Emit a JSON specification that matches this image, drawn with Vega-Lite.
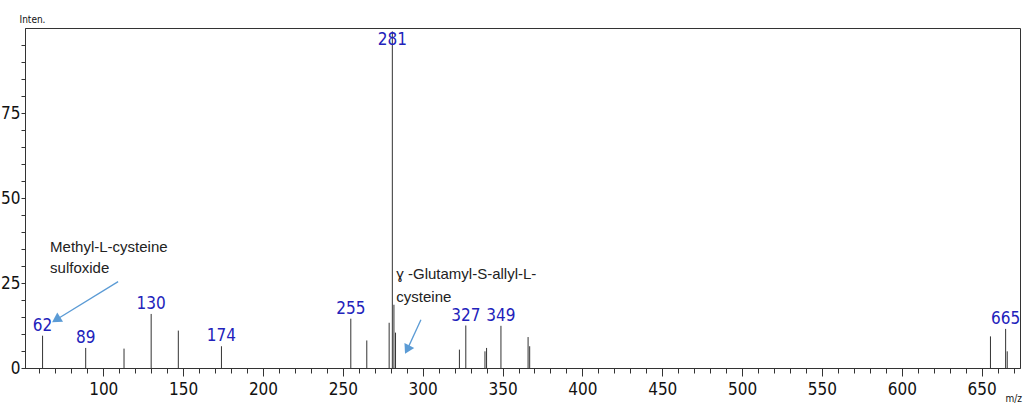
{
  "$schema": "https://vega.github.io/schema/vega-lite/v6.json",
  "width": 995,
  "height": 340,
  "autosize": "none",
  "padding": {"left": 25, "top": 28, "right": 7, "bottom": 35},
  "background": "white",
  "config": {
    "view": {"stroke": "#333", "strokeWidth": 1},
    "axis": {"grid": false, "domainColor": "#333", "tickColor": "#333", "labelColor": "#111",
             "labelFont": "DejaVu Sans Condensed, Liberation Sans Narrow, sans-serif", "labelFontSize": 17,
             "labelOverlap": false, "labelBound": false,
             "titleFont": "DejaVu Sans Condensed, sans-serif", "titleFontWeight": "normal", "titleFontSize": 10, "titleColor": "#111"}
  },
  "datasets": {
    "peaks": [
      {"mz": 62, "intensity": 9.5, "label": "62"},
      {"mz": 89, "intensity": 5.9, "label": "89"},
      {"mz": 113, "intensity": 5.7, "label": ""},
      {"mz": 130, "intensity": 15.9, "label": "130"},
      {"mz": 147, "intensity": 11.0, "label": ""},
      {"mz": 174, "intensity": 6.4, "label": "174"},
      {"mz": 255, "intensity": 14.5, "label": "255"},
      {"mz": 265, "intensity": 8.1, "label": ""},
      {"mz": 279, "intensity": 13.3, "label": ""},
      {"mz": 281, "intensity": 99, "label": "281"},
      {"mz": 282, "intensity": 18.6, "label": ""},
      {"mz": 283, "intensity": 10.4, "label": ""},
      {"mz": 323, "intensity": 5.4, "label": ""},
      {"mz": 327, "intensity": 12.5, "label": "327"},
      {"mz": 339, "intensity": 4.9, "label": ""},
      {"mz": 340, "intensity": 5.9, "label": ""},
      {"mz": 349, "intensity": 12.4, "label": "349"},
      {"mz": 366, "intensity": 9.1, "label": ""},
      {"mz": 367, "intensity": 6.4, "label": ""},
      {"mz": 655.5, "intensity": 9.3, "label": ""},
      {"mz": 665, "intensity": 11.5, "label": "665"},
      {"mz": 666, "intensity": 4.9, "label": ""}
    ],
    "notes": [
      {"mz": 66.7, "intensity": 35.7, "text": "Methyl-L-cysteine"},
      {"mz": 66.7, "intensity": 29.5, "text": "sulfoxide"},
      {"mz": 283.5, "intensity": 27.7, "text": "ɣ -Glutamyl-S-allyl-L-"},
      {"mz": 283.5, "intensity": 21.0, "text": "cysteine"}
    ],
    "arrows": [
      {"id": "a", "mz": 109.3, "intensity": 25.4, "mz2": 70.5, "intensity2": 14.2},
      {"id": "b", "mz": 298.9, "intensity": 14.2, "mz2": 290.3, "intensity2": 5.4}
    ]
  },
  "layer": [
    {
      "data": {"name": "peaks"},
      "mark": {"type": "rule", "color": "#333", "strokeWidth": 1},
      "encoding": {
        "x": {"field": "mz", "type": "quantitative",
              "scale": {"domain": [51, 674], "nice": false, "zero": false},
              "axis": {"title": "m/z", "titleX": 980, "titleY": 30, "titleAlign": "left", "titleBaseline": "middle",
                       "tickCount": 200,
                       "values": [60,70,80,90,100,110,120,130,140,150,160,170,180,190,200,210,220,230,240,250,260,270,280,290,300,310,320,330,340,350,360,370,380,390,400,410,420,430,440,450,460,470,480,490,500,510,520,530,540,550,560,570,580,590,600,610,620,630,640,650,660,670],
                       "labelExpr": "datum.value % 50 === 0 ? datum.label : ''",
                       "tickSize": {"condition": {"test": "datum.value % 50 === 0", "value": 8}, "value": 5},
                       "labelPadding": 5}},
        "y": {"field": "intensity", "type": "quantitative",
              "scale": {"domain": [0, 100], "nice": false},
              "axis": {"title": "Inten.", "titleAngle": 0, "titleX": -6, "titleY": -4, "titleAlign": "left", "titleBaseline": "bottom",
                       "tickCount": 100,
                       "values": [0,5,10,15,20,25,30,35,40,45,50,55,60,65,70,75,80,85,90,95],
                       "labelExpr": "datum.value % 25 === 0 ? datum.label : ''",
                       "tickSize": 4, "labelPadding": 1}},
        "y2": {"datum": 0}
      }
    },
    {
      "data": {"name": "peaks"},
      "transform": [{"filter": "datum.label !== '' && datum.mz !== 281"}],
      "mark": {"type": "text", "color": "#2222bb", "baseline": "bottom", "align": "center", "dy": -1,
               "font": "DejaVu Sans Condensed, Liberation Sans Narrow, sans-serif", "fontSize": 17},
      "encoding": {
        "x": {"field": "mz", "type": "quantitative"},
        "y": {"field": "intensity", "type": "quantitative"},
        "text": {"field": "label"}
      }
    },
    {
      "data": {"name": "peaks"},
      "transform": [{"filter": "datum.mz === 281"}],
      "mark": {"type": "text", "color": "#2222bb", "baseline": "top", "align": "center", "dy": 1,
               "font": "DejaVu Sans Condensed, Liberation Sans Narrow, sans-serif", "fontSize": 17},
      "encoding": {
        "x": {"field": "mz", "type": "quantitative"},
        "y": {"field": "intensity", "type": "quantitative"},
        "text": {"field": "label"}
      }
    },
    {
      "data": {"name": "notes"},
      "mark": {"type": "text", "color": "#222", "align": "left", "baseline": "middle",
               "font": "Liberation Sans, Noto Sans, DejaVu Sans, sans-serif", "fontSize": 15},
      "encoding": {
        "x": {"field": "mz", "type": "quantitative"},
        "y": {"field": "intensity", "type": "quantitative"},
        "text": {"field": "text"}
      }
    },
    {
      "data": {"name": "arrows"},
      "mark": {"type": "rule", "color": "#5b9bd5", "strokeWidth": 1.3},
      "encoding": {
        "x": {"field": "mz", "type": "quantitative"},
        "y": {"field": "intensity", "type": "quantitative"},
        "x2": {"field": "mz2"},
        "y2": {"field": "intensity2"}
      }
    },
    {
      "data": {"name": "arrows"},
      "transform": [{"filter": "datum.id === 'a'"}],
      "mark": {"type": "point", "shape": "triangle-up", "filled": true, "color": "#5b9bd5", "opacity": 1, "size": 120, "angle": 238},
      "encoding": {
        "x": {"field": "mz2", "type": "quantitative"},
        "y": {"field": "intensity2", "type": "quantitative"}
      }
    },
    {
      "data": {"name": "arrows"},
      "transform": [{"filter": "datum.id === 'b'"}],
      "mark": {"type": "point", "shape": "triangle-up", "filled": true, "color": "#5b9bd5", "opacity": 1, "size": 120, "angle": 207},
      "encoding": {
        "x": {"field": "mz2", "type": "quantitative"},
        "y": {"field": "intensity2", "type": "quantitative"}
      }
    }
  ]
}
